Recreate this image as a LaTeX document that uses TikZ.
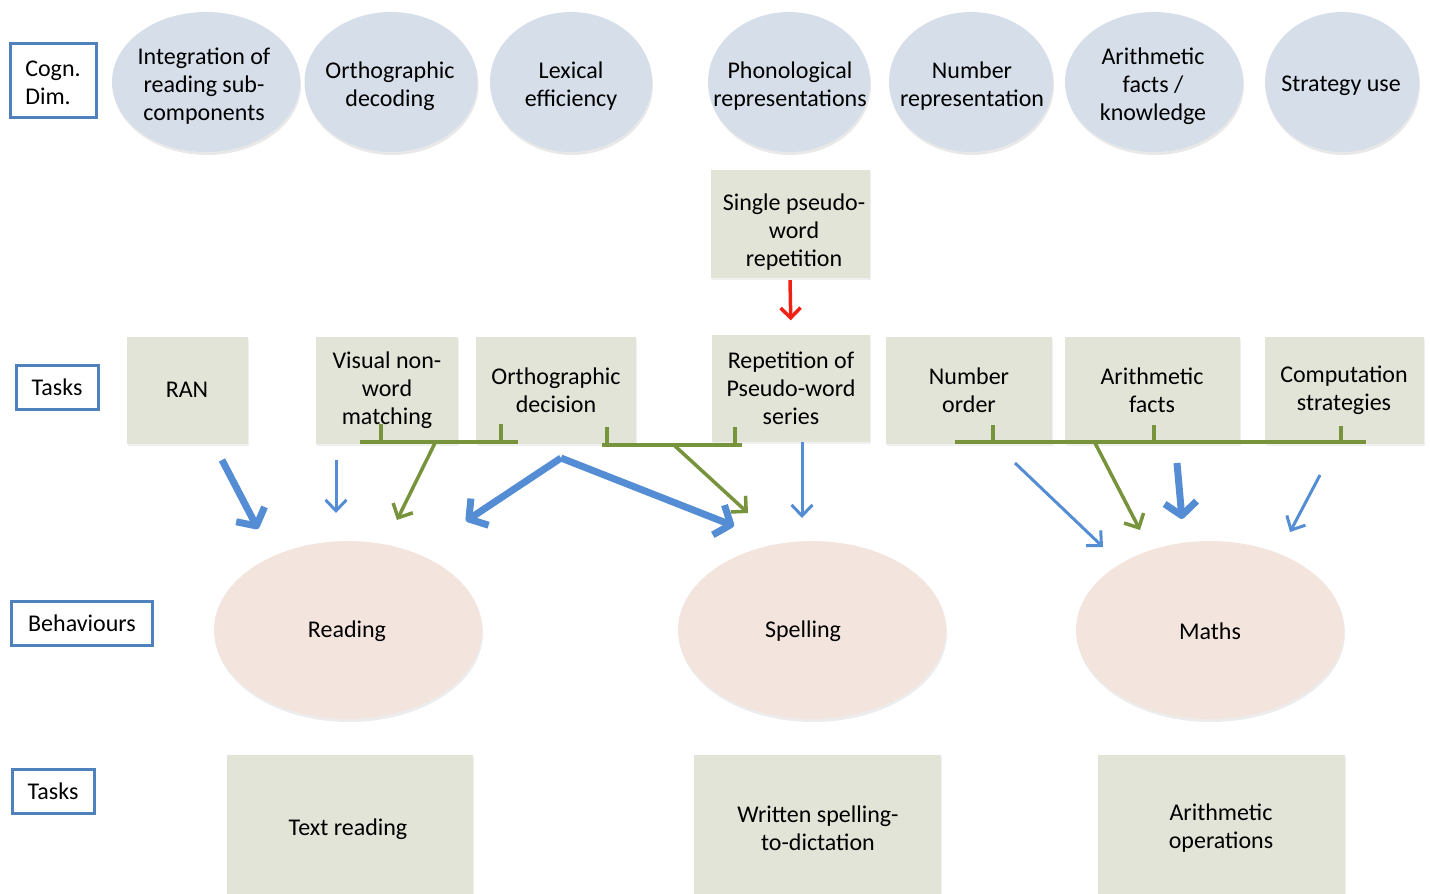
\documentclass[tikz,border=0pt]{standalone}
\usepackage{fontspec}
\setmainfont{Carlito}
\usetikzlibrary{shapes.geometric,arrows.meta,shadows}
\definecolor{cogfill}{RGB}{213,222,233}
\definecolor{taskfill}{RGB}{225,228,215}
\definecolor{behfill}{RGB}{243,229,221}
\definecolor{lblblue}{RGB}{79,129,189}
\definecolor{arrblue}{RGB}{84,141,212}
\definecolor{grn}{RGB}{119,147,60}
\definecolor{redarr}{RGB}{238,34,20}
\begin{document}
\begin{tikzpicture}[x=1pt,y=-1pt,
  font=\fontsize{24}{28}\selectfont,
  cog/.style={ellipse, fill=cogfill, inner sep=0pt, minimum height=140pt,
    drop shadow={shadow xshift=1pt, shadow yshift=-3pt, opacity=0.18}},
  txt/.style={inner sep=0pt, align=center},
  beh/.style={ellipse, fill=behfill, inner sep=0pt, minimum width=268pt, minimum height=178pt,
    drop shadow={shadow xshift=1pt, shadow yshift=-3pt, opacity=0.15}},
  taskbox/.style={rectangle, fill=taskfill, inner sep=0pt, align=center,
    drop shadow={shadow xshift=1pt, shadow yshift=-2pt, opacity=0.12}},
  lbl/.style={rectangle, draw=lblblue, line width=3pt, fill=white, inner sep=0pt, align=center},
  bthick/.style={draw=arrblue, line width=7pt, line join=round, -{Straight Barb[length=13pt, width=32pt, line join=round]}},
  bthin/.style={draw=arrblue, line width=3pt, -{Straight Barb[length=11pt, width=21pt]}},
  gline/.style={draw=grn, line width=3.5pt},
  garrow/.style={draw=grn, line width=3.5pt, -{Straight Barb[length=11pt, width=22pt]}},
  rarrow/.style={draw=redarr, line width=3.5pt, -{Straight Barb[length=10pt, width=20pt]}}
]
\useasboundingbox (0,0) rectangle (1430,894);
\clip (0,0) rectangle (1430,894);

% side labels
\node[lbl, minimum width=86pt, minimum height=74pt] (lc) at (53,80) {};
\node[txt, align=left] (lct) at (53,83) {Cogn.\\Dim.};
\node[lbl, minimum width=82pt, minimum height=44pt] (lt1) at (57,387) {Tasks};
\node[lbl, minimum width=141pt, minimum height=44pt] (lb) at (82,623) {Behaviours};
\node[lbl, minimum width=82pt, minimum height=44pt] (lt2) at (53,791) {Tasks};

% cognitive dimensions
\node[cog, minimum width=188pt] (c1) at (206,82) {};
\node[txt] (c1t) at (204,86) {Integration of\\reading sub-\\components};
\node[cog, minimum width=173pt] (c2) at (391,82) {};
\node[txt] (c2t) at (390,86) {Orthographic\\decoding};
\node[cog, minimum width=162pt] (c3) at (571,82) {};
\node[txt] (c3t) at (571,86) {Lexical\\efficiency};
\node[cog, minimum width=162pt] (c4) at (789,82) {};
\node[txt] (c4t) at (790,86) {Phonological\\representations};
\node[cog, minimum width=164pt] (c5) at (971,82) {};
\node[txt] (c5t) at (972,86) {Number\\representation};
\node[cog, minimum width=178pt] (c6) at (1154,82) {};
\node[txt] (c6t) at (1153,86) {Arithmetic\\facts /\\knowledge};
\node[cog, minimum width=154pt] (c7) at (1342,82) {};
\node[txt] (c7t) at (1341,86) {Strategy use};

% single pseudo-word
\node[taskbox, minimum width=159pt, minimum height=108pt] (sp) at (790,224) {};
\node[txt] (spt) at (794,232) {Single pseudo-\\word\\repetition};

% tasks row
\node[taskbox, minimum width=121pt, minimum height=107pt] (ran) at (187,390) {RAN};
\node[taskbox, minimum width=142pt, minimum height=107pt] (vnw) at (387,390) {Visual non-\\word\\matching};
\node[taskbox, minimum width=160pt, minimum height=107pt] (od) at (556,390) {Orthographic\\decision};
\node[taskbox, minimum width=158pt, minimum height=107pt] (rep) at (791,388) {Repetition of\\Pseudo-word\\series};
\node[taskbox, minimum width=166pt, minimum height=107pt] (no) at (969,390) {Number\\order};
\node[taskbox, minimum width=175pt, minimum height=107pt] (af) at (1152,390) {Arithmetic\\facts};
\node[taskbox, minimum width=159pt, minimum height=107pt] (cs) at (1344,390) {Computation\\strategies};

% behaviours
\node[beh] (bR) at (348,630) {};
\node[txt] (bRt) at (347,631) {Reading};
\node[beh] (bS) at (812,630) {};
\node[txt] (bSt) at (803,631) {Spelling};
\node[beh] (bM) at (1210,630) {};
\node[txt] (bMt) at (1210,631) {Maths};

% bottom tasks
\node[taskbox, minimum width=246pt, minimum height=144pt] (oR) at (350,827) {};
\node[txt] (oRt) at (348,829) {Text reading};
\node[taskbox, minimum width=247pt, minimum height=144pt] (oS) at (817,827) {};
\node[txt] (oSt) at (818,828) {Written spelling-\\to-dictation};
\node[taskbox, minimum width=247pt, minimum height=144pt] (oM) at (1221,827) {};
\node[txt] (oMt) at (1221,828) {Arithmetic\\operations};

% red arrow
\draw[rarrow, shorten <=2pt, shorten >=14pt] (sp.south) -- (rep.north);

% green brackets
\coordinate (gl1) at (360,442); \coordinate (gl2) at (518,442);
\coordinate (gt1) at (381,424); \coordinate (gb1) at (381,442);
\coordinate (gt2) at (501,424); \coordinate (gb2) at (501,442);
\draw[gline] (gl1) -- (gl2);
\draw[gline] (gt1) -- (gb1);
\draw[gline] (gt2) -- (gb2);
\coordinate (ga1s) at (435,443); \coordinate (ga1e) at (397,520);
\draw[garrow] (ga1s) -- (ga1e);

\coordinate (gm1) at (602,445); \coordinate (gm2) at (742,445);
\coordinate (gt3) at (607,427); \coordinate (gb3) at (607,445);
\coordinate (gt4) at (735,427); \coordinate (gb4) at (735,445);
\draw[gline] (gm1) -- (gm2);
\draw[gline] (gt3) -- (gb3);
\draw[gline] (gt4) -- (gb4);
\coordinate (ga2s) at (675,446); \coordinate (ga2e) at (748,513);
\draw[garrow] (ga2s) -- (ga2e);

\coordinate (gr1) at (955,442); \coordinate (gr2) at (1366,442);
\coordinate (gt5) at (993,425); \coordinate (gb5) at (993,442);
\coordinate (gt6) at (1154,425); \coordinate (gb6) at (1154,442);
\coordinate (gt7) at (1341,426); \coordinate (gb7) at (1341,442);
\draw[gline] (gr1) -- (gr2);
\draw[gline] (gt5) -- (gb5);
\draw[gline] (gt6) -- (gb6);
\draw[gline] (gt7) -- (gb7);
\coordinate (ga3s) at (1095,443); \coordinate (ga3e) at (1140,530);
\draw[garrow] (ga3s) -- (ga3e);

% blue arrows
\coordinate (b1s) at (222,460); \coordinate (b1e) at (258,529);
\draw[bthick] (b1s) -- (b1e);
\coordinate (b2s) at (336,460); \coordinate (b2e) at (336,513);
\draw[bthin] (b2s) -- (b2e);
\coordinate (bpk) at (561,458);
\coordinate (b3e) at (466,521);
\coordinate (b4e) at (734,526);
\draw[bthick] (bpk) -- (b3e);
\draw[bthick] (bpk) -- (b4e);
\coordinate (b5s) at (802,442); \coordinate (b5e) at (802,518);
\draw[bthin] (b5s) -- (b5e);
\coordinate (b6s) at (1015,463); \coordinate (b6e) at (1103,547);
\draw[bthin] (b6s) -- (b6e);
\coordinate (b7s) at (1177,463); \coordinate (b7e) at (1182,519);
\draw[bthick] (b7s) -- (b7e);
\coordinate (b8s) at (1320,475); \coordinate (b8e) at (1290,532);
\draw[bthin] (b8s) -- (b8e);
\end{tikzpicture}
\end{document}
